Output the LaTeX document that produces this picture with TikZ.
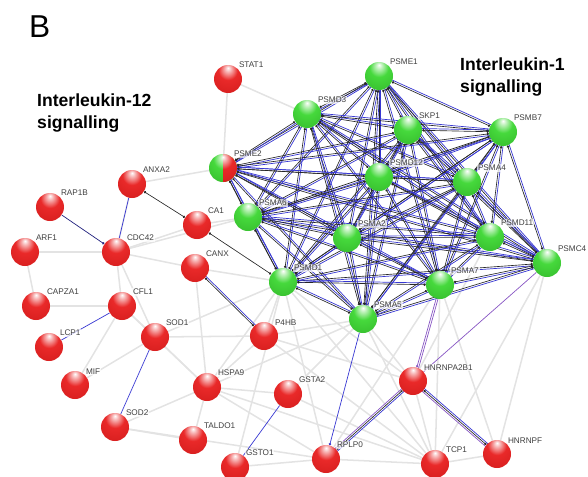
\documentclass[tikz,border=0pt]{standalone}
\usepackage{fontspec}
\setmainfont{Liberation Sans}
\usetikzlibrary{positioning, arrows.meta, calc, backgrounds}

\definecolor{protred}{RGB}{232,30,30}
\definecolor{protgreen}{RGB}{60,215,50}
\definecolor{linkblue}{RGB}{55,55,210}
\definecolor{linkpurple}{RGB}{135,85,195}

% glossy balls, highlight on top
\pgfdeclareradialshading{redball}{\pgfpoint{0bp}{20bp}}{color(0bp)=(white); color(5bp)=(protred!30!white);
    color(17bp)=(protred!95!white); color(45bp)=(protred!90!black); color(62bp)=(protred!65!black); color(72bp)=(protred!60!black)}
\pgfdeclareradialshading{greenball}{\pgfpoint{0bp}{20bp}}{color(0bp)=(white); color(5bp)=(protgreen!30!white);
    color(17bp)=(protgreen!95!white); color(45bp)=(protgreen!85!black); color(62bp)=(protgreen!60!black); color(72bp)=(protgreen!55!black)}

\begin{document}
\begin{tikzpicture}[
            x=0.03cm, y=-0.03cm,
            prot/.style={circle, minimum size=0.84cm, inner sep=0pt, shading=redball},
            protg/.style={prot, shading=greenball},
            every label/.style={font=\fontsize{7}{8}\selectfont, text=black!75, inner sep=0.6pt,
                fill=white, fill opacity=0.7, text opacity=1},
            label distance=0pt,
            grayedge/.style={draw=black!11, line width=1.3pt},
            blueedge/.style={draw=linkblue, line width=0.6pt},
            blackedge/.style={draw=black!85, line width=0.55pt, {Circle[length=2pt]}-{Circle[length=2pt]}},
            purpleedge/.style={draw=linkpurple, line width=0.6pt},
            title/.style={font=\bfseries\fontsize{15}{18.7}\selectfont, align=left, inner sep=0pt, anchor=north west}
        ]
        \useasboundingbox (0,0) rectangle (588,477);

        % Panel letter and pathway titles
        \node[font=\fontsize{27}{30}\selectfont, anchor=north west, inner sep=0pt] (panel) at (29,16) {B};
        \node[title] (il12) at (37,94) {Interleukin-12\\signalling};
        \node[title] (il1) at (460,58) {Interleukin-1\\signalling};

        % Proteasome cluster
        \node[protg, label=45:PSME1] (psme1) at (379,76) {};
        \node[protg, label=45:PSMD3] (psmd3) at (307,114) {};
        \node[protg, label=45:SKP1] (skp1) at (408,130) {};
        \node[protg, label=45:PSMB7] (psmb7) at (503,132) {};
        \node[protg, label=45:PSME2] (psme2) at (223,168) {};
        \node[protg, label=45:PSMD12] (psmd12) at (379,177) {};
        \node[protg, label=45:PSMA4] (psma4) at (467,182) {};
        \node[protg, label=45:PSMA6] (psma6) at (248,217) {};
        \node[protg, label=45:PSMA2] (psma2) at (347,238) {};
        \node[protg, label=45:PSMD11] (psmd11) at (490,237) {};
        \node[protg, label=45:PSMC4] (psmc4) at (547,263) {};
        \node[protg, label=45:PSMD1] (psmd1) at (283,282) {};
        \node[protg, label=45:PSMA7] (psma7) at (440,285) {};
        \node[protg, label=45:PSMA5] (psma5) at (363,319) {};

        % PSME2 is half red
        \begin{scope}
            \clip (psme2.north) rectangle (psme2.east |- psme2.south);
            \shade[shading=redball] (psme2) circle[radius=14];
        \end{scope}

        % Other proteins
        \node[prot, label=45:STAT1] (stat1) at (228,79) {};
        \node[prot, label=45:ANXA2] (anxa2) at (132,184) {};
        \node[prot, label=45:RAP1B] (rap1b) at (50,207) {};
        \node[prot, label=45:CA1] (ca1) at (197,225) {};
        \node[prot, label=45:ARF1] (arf1) at (25,252) {};
        \node[prot, label=45:CDC42] (cdc42) at (116,252) {};
        \node[prot, label=45:CANX] (canx) at (195,268) {};
        \node[prot, label=45:CAPZA1] (capza1) at (36,306) {};
        \node[prot, label=45:CFL1] (cfl1) at (122,306) {};
        \node[prot, label=45:LCP1] (lcp1) at (49,347) {};
        \node[prot, label=45:SOD1] (sod1) at (155,337) {};
        \node[prot, label=45:P4HB] (p4hb) at (264,336) {};
        \node[prot, label=45:MIF] (mif) at (75,385) {};
        \node[prot, label=45:HSPA9] (hspa9) at (207,387) {};
        \node[prot, label=45:GSTA2] (gsta2) at (288,394) {};
        \node[prot, label=45:SOD2] (sod2) at (115,427) {};
        \node[prot, label=45:TALDO1] (taldo1) at (193,440) {};
        \node[prot, label=45:GSTO1] (gsto1) at (235,467) {};
        \node[prot, label=45:HNRNPA2B1] (hnrnpa2b1) at (413,381) {};
        \node[prot, label=45:RPLP0] (rplp0) at (326,459) {};
        \node[prot, label=45:TCP1] (tcp1) at (435,464) {};
        \node[prot, label=45:HNRNPF] (hnrnpf) at (497,454) {};

        \begin{scope}[on background layer]
            % Weak associations
            \foreach \a/\b in {stat1/psmd3, stat1/psme2, anxa2/psme2, anxa2/cdc42, ca1/cdc42, ca1/psma6,
                arf1/cdc42, arf1/capza1, capza1/cfl1, cdc42/cfl1, cdc42/sod1, cdc42/canx, cdc42/psma6,
                cfl1/sod1, cfl1/hspa9, mif/sod1, mif/cfl1, sod1/p4hb, sod1/hspa9, sod1/psmd1, canx/hspa9,
                canx/psmd1, hspa9/p4hb, hspa9/psmd1, hspa9/gsta2, hspa9/tcp1, hspa9/rplp0, hspa9/psma5,
                sod2/hspa9, sod2/taldo1, sod2/rplp0, taldo1/hspa9, gsto1/rplp0, gsto1/psmd1, p4hb/psma5,
                p4hb/psmd1, p4hb/tcp1, p4hb/hnrnpa2b1, gsta2/tcp1, gsta2/psma5, rplp0/tcp1, rplp0/psmd1,
                rplp0/psma7, tcp1/hnrnpf, tcp1/hnrnpa2b1, tcp1/psma5, tcp1/psma7, tcp1/psmc4, tcp1/psmd1,
                hnrnpf/psmc4, hnrnpf/psma7, hnrnpa2b1/psma5, hnrnpa2b1/psmd1, hnrnpa2b1/psmd11}
                \draw[grayedge] (\a) -- (\b);

            % Dense proteasome interactions
            \def\cluster{psme1,psmd3,skp1,psmb7,psme2,psmd12,psma4,psma6,psma2,psmd11,psmc4,psmd1,psma7,psma5}
            \foreach \a [count=\i] in \cluster {
                \foreach \b [count=\j] in \cluster {
                    \ifnum\j>\i
                        \draw[blueedge] ($(\a)!1.5pt!90:(\b)$) -- ($(\b)!1.5pt!-90:(\a)$);
                        \draw[blackedge] (\a) -- (\b);
                    \fi
                }
            }

            % Strong single links
            \draw[blackedge] (anxa2) -- (ca1);
            \draw[blackedge] (ca1) -- (psmd1);
            \draw[blueedge] (anxa2) -- (cdc42);
            \draw[purpleedge, draw=linkblue!60!black, -{Circle[length=2pt]}] (rap1b) -- (cdc42);
            \draw[blueedge] (cfl1) -- (lcp1);
            \draw[blueedge] (sod1) -- (sod2);
            \draw[blueedge] (gsta2) -- (gsto1);
            \draw[blueedge, -{Circle[length=2pt, fill=linkpurple]}] (psma5) -- (rplp0);
            \draw[blackedge] (canx) -- (p4hb);
            \draw[blueedge] ($(canx)!1.5pt!90:(p4hb)$) -- ($(p4hb)!1.5pt!-90:(canx)$);

            % Links to the RNA binding proteins
            \foreach \a/\b in {hnrnpa2b1/rplp0, hnrnpa2b1/hnrnpf} {
                \draw[blackedge] (\a) -- (\b);
                \draw[blueedge] ($(\a)!1.5pt!90:(\b)$) -- ($(\b)!1.5pt!-90:(\a)$);
                \draw[purpleedge] ($(\a)!1.5pt!-90:(\b)$) -- ($(\b)!1.5pt!90:(\a)$);
            }
            \draw[purpleedge, -{Circle[length=2pt, fill=linkpurple]}] (psma7) -- (hnrnpa2b1);
            \draw[purpleedge] ($(psma7)!1.6pt!90:(hnrnpa2b1)$) -- ($(hnrnpa2b1)!1.6pt!-90:(psma7)$);
            \draw[purpleedge] (psmc4) -- (hnrnpa2b1);
        \end{scope}

        \end{tikzpicture}
\end{document}
